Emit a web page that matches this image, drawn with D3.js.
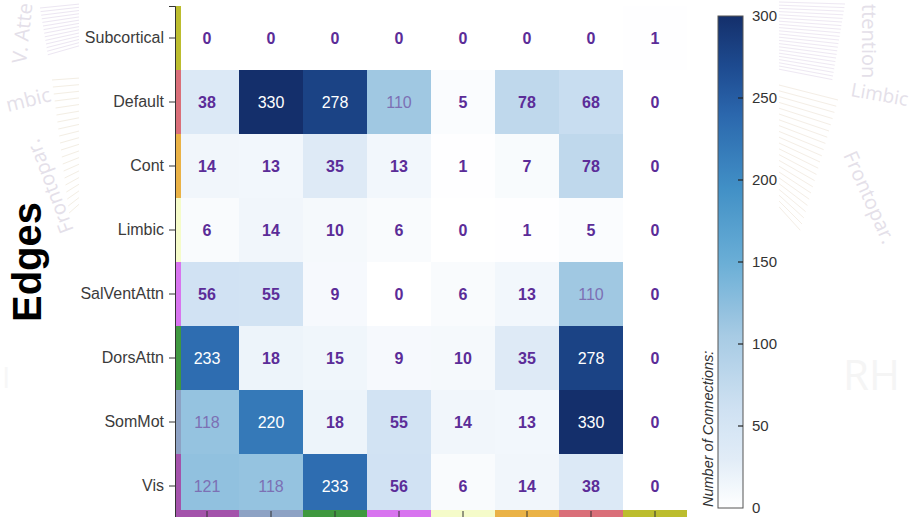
<!DOCTYPE html>
<html>
<head>
<meta charset="utf-8">
<script src="https://cdn.jsdelivr.net/npm/d3@7"></script>
<style>
  html, body { margin: 0; padding: 0; background: #fff; }
  svg { display: block; font-family: "Liberation Sans", Arial, Helvetica, sans-serif; }
</style>
</head>
<body>
<svg id="chart" width="909" height="517"></svg>
<script>
// Network labels (rows top to bottom, columns left to right)
const rowNetworks = ["Subcortical", "Default", "Cont", "Limbic", "SalVentAttn", "DorsAttn", "SomMot", "Vis"];
const colNetworks = ["Vis", "SomMot", "DorsAttn", "SalVentAttn", "Limbic", "Cont", "Default", "Subcortical"];

// Edge counts per row network, one value per column network
const subcorticalRow = [0, 0, 0, 0, 0, 0, 0, 1];
const defaultRow     = [38, 330, 278, 110, 5, 78, 68, 0];
const contRow        = [14, 13, 35, 13, 1, 7, 78, 0];
const limbicRow      = [6, 14, 10, 6, 0, 1, 5, 0];
const salVentRow     = [56, 55, 9, 0, 6, 13, 110, 0];
const dorsAttnRow    = [233, 18, 15, 9, 10, 35, 278, 0];
const somMotRow      = [118, 220, 18, 55, 14, 13, 330, 0];
const visRow         = [121, 118, 233, 56, 6, 14, 38, 0];

// Colour-bar ticks
const colorTicks = [0, 50, 100, 150, 200, 250, 300];
const colorMax = 300;

// Blue ramp (fraction of colorMax -> colour)
const rampStops = [0, 0.1, 0.2, 0.35, 0.5, 0.65, 0.8, 0.9, 1];
const rampColors = ["#ffffff", "#e1ecf7", "#cfe1f2", "#a7cbe4", "#6aaed6", "#4190c6", "#2b67ad", "#1d4a8f", "#142f6b"];

// Network identity colours for the axis strips
const networkColors = {
  Vis: "#a453ab", SomMot: "#8da2c4", DorsAttn: "#3f983f", SalVentAttn: "#d874ef",
  Limbic: "#f5fbc9", Cont: "#eab246", Default: "#da6f79", Subcortical: "#bcbd2e"
};

const matrix = [subcorticalRow, defaultRow, contRow, limbicRow, salVentRow, dorsAttnRow, somMotRow, visRow];
const cells = [];
rowNetworks.forEach((r, i) => colNetworks.forEach((c, j) => cells.push({ row: r, col: c, value: matrix[i][j] })));

const svg = d3.select("#chart");

// ---- faint background artwork on both sides ----
const bg = svg.append("g").attr("fill", "none");
d3.range(14).forEach(k => {
  bg.append("line").attr("x1", 40 + k * 0.6).attr("y1", 8 + k * 3.6).attr("x2", 80).attr("y2", 4 + k * 3.2)
    .attr("stroke", "#ece6f2").attr("stroke-width", 1);
});
d3.range(20).forEach(k => {
  bg.append("line").attr("x1", 52 + k * 0.9).attr("y1", 80 + k * 7).attr("x2", 80).attr("y2", 78 + k * 6.6)
    .attr("stroke", "#f3eee4").attr("stroke-width", 1);
});
d3.range(22).forEach(k => {
  bg.append("line").attr("x1", 779).attr("y1", 2 + k * 3.2).attr("x2", 845 - k * 0.6).attr("y2", 4 + k * 3.6)
    .attr("stroke", "#eee8f3").attr("stroke-width", 1);
});
d3.range(22).forEach(k => {
  bg.append("line").attr("x1", 779).attr("y1", 85 + k * 5.8).attr("x2", 838 - k * 1.8).attr("y2", 100 + k * 6.2)
    .attr("stroke", "#f4eee6").attr("stroke-width", 1);
});
const bgText = svg.append("g").attr("fill", "#e4e0e9").attr("font-family", "'Open Sans', sans-serif").attr("font-size", 20);
bgText.append("text").attr("transform", "translate(26,64) rotate(-84)").text("V. Atte");
bgText.append("text").attr("transform", "translate(8,112) rotate(-14)").text("mbic");
bgText.append("text").attr("transform", "translate(74,230) rotate(-111)").text("Frontopar.");
bgText.append("text").attr("transform", "translate(862,4) rotate(90)").text("ttention");
bgText.append("text").attr("transform", "translate(850,96) rotate(10)").attr("font-size", 19).text("Limbic");
bgText.append("text").attr("transform", "translate(843,155) rotate(66)").text("Frontopar.");
svg.append("text").attr("x", 843).attr("y", 390).attr("fill", "#f5f5f5").attr("font-size", 42)
  .attr("font-family", "'Open Sans', sans-serif").text("RH");
svg.append("text").attr("x", 2).attr("y", 388).attr("fill", "#f7f7f7").attr("font-size", 30)
  .attr("font-family", "'Open Sans', sans-serif").text("I");

// white panel behind the chart
svg.append("rect").attr("x", 79).attr("y", 0).attr("width", 700).attr("height", 517).attr("fill", "#fff");

// ---- heatmap ----
const x = d3.scaleBand().domain(colNetworks).range([175, 687]).padding(0);
const y = d3.scaleBand().domain(rowNetworks).range([6, 518]).padding(0);
const color = d3.scaleLinear()
  .domain(rampStops.map(t => t * colorMax))
  .range(rampColors)
  .interpolate(d3.interpolateRgb)
  .clamp(true);

svg.append("g").selectAll("rect").data(cells).join("rect")
  .attr("x", d => x(d.col)).attr("y", d => y(d.row))
  .attr("width", x.bandwidth()).attr("height", y.bandwidth())
  .attr("fill", d => color(d.value));

svg.append("g").selectAll("text").data(cells).join("text")
  .attr("x", d => x(d.col) + x.bandwidth() / 2)
  .attr("y", d => y(d.row) + y.bandwidth() / 2)
  .attr("text-anchor", "middle").attr("dy", "0.36em")
  .attr("font-size", 16)
  .attr("font-weight", d => d.value < 100 ? "bold" : "normal")
  .attr("fill", d => d.value >= 200 ? "#ffffff" : d.value >= 100 ? "#7c70b4" : "#5b2c98")
  .text(d => d.value);

// network colour strips along the axes
svg.append("g").selectAll("rect").data(rowNetworks).join("rect")
  .attr("x", 175).attr("y", d => y(d)).attr("width", 6).attr("height", y.bandwidth())
  .attr("fill", d => networkColors[d]);
svg.append("g").selectAll("rect").data(colNetworks).join("rect")
  .attr("x", d => x(d)).attr("y", 510).attr("width", x.bandwidth()).attr("height", 8)
  .attr("fill", d => networkColors[d]);

// y axis
const yAxis = svg.append("g").attr("transform", "translate(175,0)")
  .call(d3.axisLeft(y).tickSize(6).tickPadding(5));
yAxis.select(".domain").attr("stroke", "#333");
yAxis.selectAll(".tick line").attr("stroke", "#333");
yAxis.selectAll(".tick text").attr("font-size", 16).attr("fill", "#3b3b3b")
  .attr("font-family", "'Liberation Sans', Arial, sans-serif");

// x axis ticks (labels fall below the visible area)
const xAxis = svg.append("g").attr("transform", "translate(0,511)")
  .call(d3.axisBottom(x).tickSize(8).tickFormat(""));
xAxis.select(".domain").remove();
xAxis.selectAll(".tick line").attr("stroke", "#333");

// axis title
svg.append("text").attr("transform", "translate(41,262) rotate(-90)")
  .attr("text-anchor", "middle").attr("font-size", 40).attr("font-weight", "bold")
  .attr("fill", "#000").text("Edges");

// ---- colour bar ----
const cbX = 718, cbW = 25;
const cbScale = d3.scaleLinear().domain([0, colorMax]).range([508, 16]);
const grad = svg.append("defs").append("linearGradient").attr("id", "cbGrad")
  .attr("x1", 0).attr("y1", 1).attr("x2", 0).attr("y2", 0);
d3.range(0, 1.0001, 0.05).forEach(t => {
  grad.append("stop").attr("offset", t).attr("stop-color", color(t * colorMax));
});
svg.append("rect").attr("x", cbX).attr("y", cbScale(colorMax))
  .attr("width", cbW).attr("height", cbScale(0) - cbScale(colorMax))
  .attr("fill", "url(#cbGrad)").attr("stroke", "#555").attr("stroke-width", 1);

const cbAxis = svg.append("g").attr("transform", `translate(${cbX + cbW},0)`)
  .call(d3.axisRight(cbScale).tickValues(colorTicks).tickSize(0).tickPadding(9));
cbAxis.select(".domain").remove();
cbAxis.selectAll(".tick text").attr("font-size", 15).attr("fill", "#333")
  .attr("font-family", "'Liberation Sans', Arial, sans-serif");
svg.append("g").selectAll("line").data(colorTicks.filter(v => v > 0 && v < colorMax)).join("line")
  .attr("x1", cbX + cbW - 5).attr("x2", cbX + cbW)
  .attr("y1", d => cbScale(d)).attr("y2", d => cbScale(d))
  .attr("stroke", "#222").attr("stroke-width", 1.2);

svg.append("text").attr("transform", "translate(713,507) rotate(-90)")
  .attr("text-anchor", "start").attr("font-size", 14.5).attr("font-style", "italic")
  .attr("fill", "#333").text("Number of Connections:");
</script>
</body>
</html>
